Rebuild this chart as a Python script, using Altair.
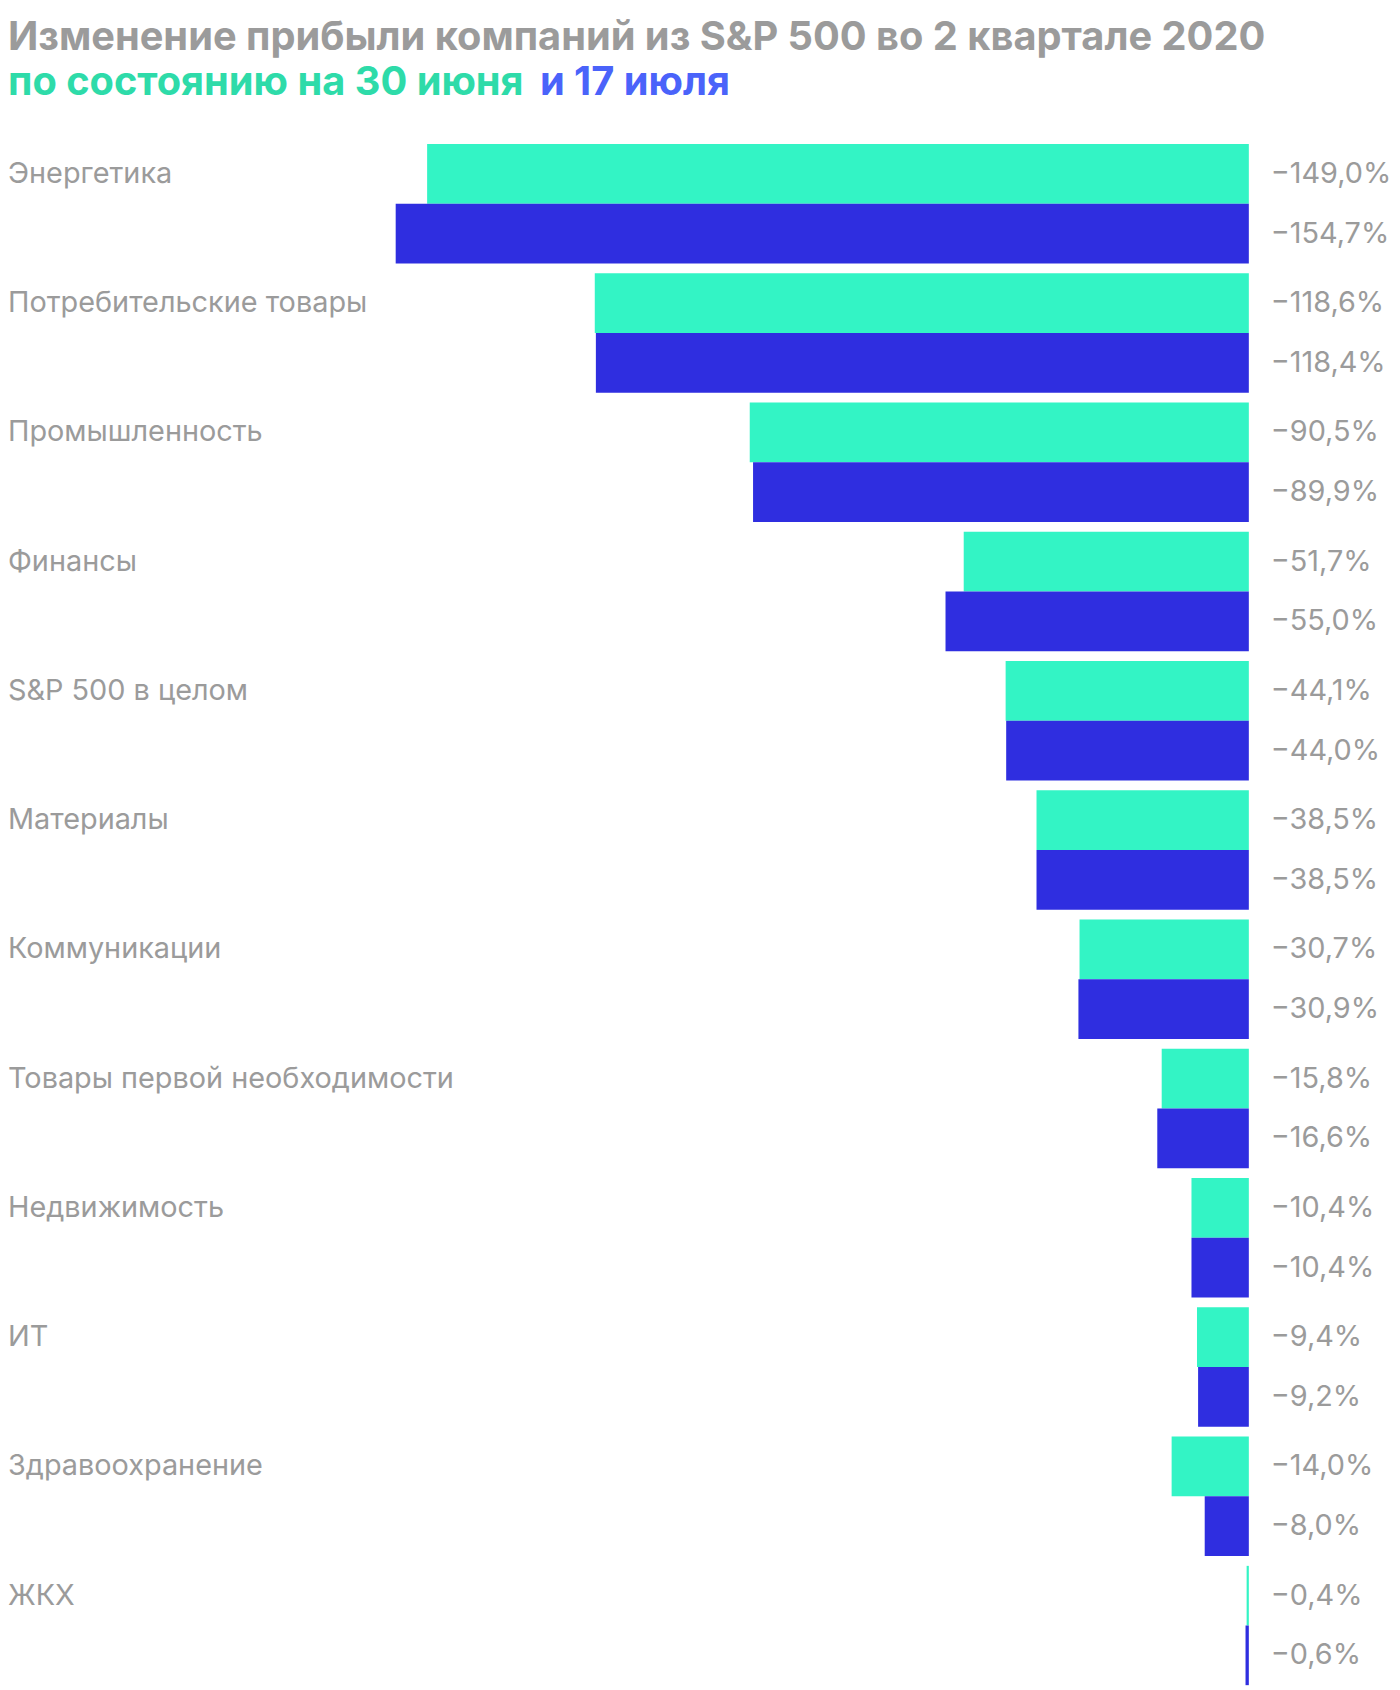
import altair as alt
import pandas as pd

categories = ["Энергетика", "Потребительские товары", "Промышленность", "Финансы",
              "S&P 500 в целом", "Материалы", "Коммуникации",
              "Товары первой необходимости", "Недвижимость", "ИТ",
              "Здравоохранение", "ЖКХ"]
june30 = [-149.0, -118.6, -90.5, -51.7, -44.1, -38.5, -30.7, -15.8, -10.4, -9.4, -14.0, -0.4]
july17 = [-154.7, -118.4, -89.9, -55.0, -44.0, -38.5, -30.9, -16.6, -10.4, -9.2, -8.0, -0.6]
series = ["30 июня", "17 июля"]
bar_colors = ["#33F4C5", "#2F2EE0"]

title_line1 = "Изменение прибыли компаний из S&P 500 во 2 квартале 2020"
title_green = "по состоянию на 30 июня"
title_blue = "и 17 июля"

FONT = "Inter"
GREY = "#9B9B9B"


def fmt(v):
    s = f"{abs(v):.1f}".replace(".", ",")
    return ("−" if v < 0 else "") + s + "%"


rows = []
for c, a, b in zip(categories, june30, july17):
    rows.append({"cat": c, "series": series[0], "value": a, "label": fmt(a)})
    rows.append({"cat": c, "series": series[1], "value": b, "label": fmt(b)})
df = pd.DataFrame(rows)
cat_df = pd.DataFrame({"cat": categories, "series": series[0]})

y_enc = alt.Y("cat:N", sort=categories, axis=None,
              scale=alt.Scale(paddingInner=10 / 130, paddingOuter=0))
yoff_enc = alt.YOffset("series:N", sort=series,
                       scale=alt.Scale(paddingInner=0, paddingOuter=0))

bars = alt.Chart(df).mark_bar().encode(
    x=alt.X("value:Q", axis=None,
            scale=alt.Scale(domain=[-225, 25.6], nice=False, zero=False)),
    x2=alt.datum(0),
    y=y_enc,
    yOffset=yoff_enc,
    color=alt.Color("series:N", sort=series, legend=None,
                    scale=alt.Scale(domain=series, range=bar_colors)),
)

values = alt.Chart(df).mark_text(
    align="left", baseline="middle", fontSize=29, font=FONT, color=GREY
).encode(
    x=alt.value(1270),
    y=y_enc,
    yOffset=yoff_enc,
    text="label:N",
)

cat_labels = alt.Chart(cat_df).mark_text(
    align="left", baseline="middle", fontSize=29, font=FONT, color=GREY
).encode(
    x=alt.value(0),
    y=y_enc,
    yOffset=yoff_enc,
    text="cat:N",
)

t1 = alt.Chart(pd.DataFrame({"t": [title_line1]})).mark_text(
    align="left", baseline="alphabetic", fontSize=40, fontWeight="bold",
    font=FONT, color=GREY
).encode(x=alt.value(0), y=alt.value(-95), text="t:N")

t2 = alt.Chart(pd.DataFrame({"t": [title_green]})).mark_text(
    align="left", baseline="alphabetic", fontSize=40, fontWeight="bold",
    font=FONT, color="#2EDBA9"
).encode(x=alt.value(0), y=alt.value(-49), text="t:N")

t3 = alt.Chart(pd.DataFrame({"t": [title_blue]})).mark_text(
    align="left", baseline="alphabetic", fontSize=40, fontWeight="bold",
    font=FONT, color="#4A63FA"
).encode(x=alt.value(535), y=alt.value(-49), text="t:N")

chart = alt.layer(bars, values, cat_labels, t1, t2, t3).properties(
    width=1390, height=1550,
    autosize=alt.AutoSizeParams(type="none"),
    padding={"left": 0, "top": 132, "right": 2, "bottom": 0},
).configure_view(stroke=None)

chart.save("out.html", embed_options={"renderer": "svg", "actions": False})
